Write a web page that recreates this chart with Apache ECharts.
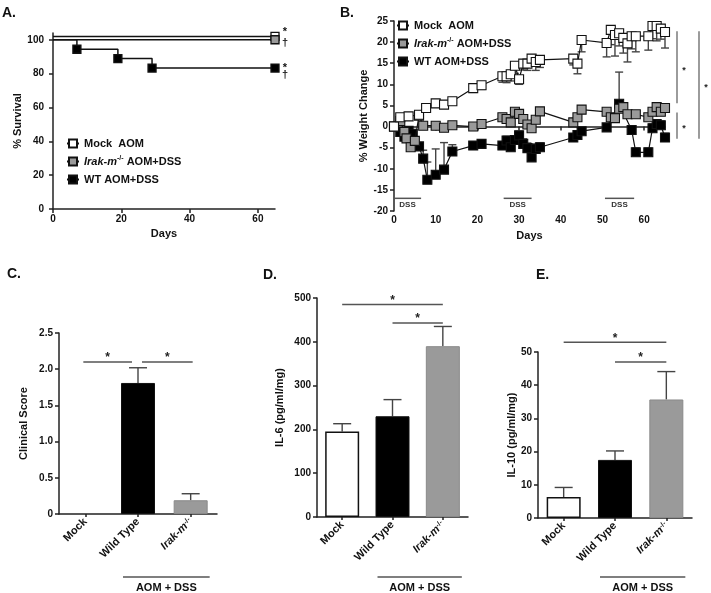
<!DOCTYPE html>
<html>
<head>
<meta charset="utf-8">
<script src="https://cdn.jsdelivr.net/npm/echarts@6/dist/echarts.min.js"></script>
<style>html,body{margin:0;padding:0;background:#fff;}#chart{width:711px;height:593px;}</style>
</head>
<body>
<div id="chart"></div>
<script>
// ================= DATA =================
// Panel A – % survival
const survXTicks = [0, 20, 40, 60];
const survYTicks = [0, 20, 40, 60, 80, 100];
const survMockDays = [0, 65];
const survMock = [100, 100];
const survIrakDays = [0, 65];
const survIrak = [100, 100];
const survWTDays = [0, 7, 19, 29, 65];
const survWT = [100, 94.4, 88.9, 83.3, 83.3];

// Panel B – % weight change
const weightXTicks = [0, 10, 20, 30, 40, 50, 60];
const weightYTicks = [-20, -15, -10, -5, 0, 5, 10, 15, 20, 25];
const wMockDays = [0,1.5,3.5,6,7.7,10,12,14,19,21,26,27,28,29,30,31,32,33,34,35,43,44,45,51,52,53,54,55,56,57,58,61,62,63,64,65];
const wMock     = [0,2.2,2.4,2.8,4.4,5.5,5.2,6,9.1,9.8,11.9,11.9,12.4,14.4,11.2,14.9,14.9,16.1,15.3,15.8,16.1,14.9,20.5,19.8,22.9,21.7,22.1,21,19.7,21.4,21.4,21.4,23.8,23.8,23.2,22.4];
const wMockErr  = [0,0.5,0.5,0.6,0.8,0.8,0.7,0.8,1,1,1.4,1.5,1.6,1.8,1.2,1.5,1.6,1.6,2,1.8,1.5,2.4,2.8,3.3,3.5,5,3,3.6,4.4,3,3.7,3.3,3,3.5,2.5,3.8];
const wIrakDays = [0,1.5,2.5,3,4,5,6,7,10,12,14,19,21,26,27,28,29,30,31,32,33,34,35,43,44,45,51,52,53,54,55,56,58,61,62,63,64,65];
const wIrak     = [0,1.3,-1.3,-2.8,-4.9,-3.4,2.6,0.2,0.2,-0.3,0.3,0,0.6,2.2,1.8,1,3.5,3,1.8,0.5,-0.4,1.6,3.6,1,2.2,4,3.5,2.2,2,4.2,4.6,2.9,2.9,2.2,3.5,4.6,3.5,4.4];
const wWTDays   = [0,1.5,2.5,3.5,4.5,6,7,8,10,12,14,19,21,26,27,28,29,30,31,32,33,34,35,43,44,45,51,54,57,58,61,62,63,64,65];
const wWT       = [0,-1.3,-2.4,-1,-1.7,-4.7,-7.6,-12.6,-11.4,-10.2,-5.9,-4.5,-4.1,-4.5,-3.3,-4.9,-3.2,-2.1,-4.1,-5.1,-7.3,-5.3,-4.9,-2.6,-2,-1.1,-0.2,5.4,-0.8,-6.1,-6.1,-0.4,0.6,0.3,-2.6];
const wWTErr    = [0,0.3,0.4,0.4,0.5,0.8,2,4.2,6.1,6.4,1.6,0.8,0.8,0.8,1,1,1,1,1.2,1.2,1.2,1.2,1,0.8,0.8,0.8,0.8,7.5,1,1,1,1,1,1,1];
const dssPeriods = [[0, 6.5], [26.3, 33], [50.6, 57.6]];
const dssLevel = -17;
const weightSig = [[22.6, 5.5], [3.3, -2.9], [22.6, -2.9]];

// Panels C, D, E – bars
const barCats = ['Mock', 'Wild Type', 'Irak-m-/-'];
const clinical = [0, 1.81, 0.19];
const clinicalErr = [0, 0.21, 0.09];
const il6 = [195, 230, 390];
const il6Err = [18, 38, 45];
const il10 = [6.3, 17.5, 35.7];
const il10Err = [2.9, 2.7, 8.4];
const sigC = [[0, 1, 2.1], [1, 2, 2.1]];
const sigD = [[0, 2, 485], [1, 2, 443]];
const sigE = [[0, 2, 52.9], [1, 2, 47]];

// ================= STYLE / BUILD =================
const FF = "'Liberation Sans', Arial, sans-serif";
const INK = '#111';
const nameMock = 'Mock  AOM', nameIrak = 'Irak-m-/- AOM+DSS', nameWT = 'WT AOM+DSS';
const barColors = ['#ffffff', '#000000', '#9a9a9a'];
const richIt = {
  i: {fontFamily: FF, fontWeight: 'bold', fontStyle: 'italic', fontSize: 11, color: INK},
  s: {fontFamily: FF, fontWeight: 'bold', fontSize: 7, color: INK, verticalAlign: 'top'},
  n: {fontFamily: FF, fontWeight: 'bold', fontSize: 11, color: INK}
};
const lineAx = {show: true, lineStyle: {color: '#222', width: 1.5}};
const tickAx = {show: true, length: 4, lineStyle: {color: '#222', width: 1.5}};
const lblAx = {color: INK, fontFamily: FF, fontWeight: 'bold', fontSize: 10};
const nameTS = {color: INK, fontFamily: FF, fontWeight: 'bold', fontSize: 11};

function valAxis(gi, min, max, ticks, name, gap, margin, extra) {
  return Object.assign({
    type: 'value', gridIndex: gi, min, max, name, nameLocation: 'middle', nameGap: gap,
    nameTextStyle: nameTS, axisLine: lineAx, splitLine: {show: false},
    axisTick: Object.assign({}, tickAx, {customValues: ticks}),
    axisLabel: Object.assign({}, lblAx, {customValues: ticks, margin})
  }, extra || {});
}
function barYAxis(gi, max, interval, name, gap, fmt) {
  return {
    type: 'value', gridIndex: gi, min: 0, max, interval, name, nameLocation: 'middle', nameGap: gap,
    nameTextStyle: nameTS, axisLine: lineAx, axisTick: tickAx, splitLine: {show: false},
    axisLabel: Object.assign({}, lblAx, {margin: 6, formatter: fmt})
  };
}
function catAxis(gi) {
  return {
    type: 'category', gridIndex: gi, data: barCats, axisLine: lineAx,
    axisTick: {show: true, alignWithLabel: true, length: 3, lineStyle: {color: '#222', width: 1.5}},
    axisLabel: {color: INK, fontFamily: FF, fontWeight: 'bold', fontSize: 11, rotate: 45, interval: 0, margin: 6,
      formatter: v => v === 'Irak-m-/-' ? '{i|Irak-m}{s|-/-}' : v, rich: richIt}
  };
}
function survSeries(name, days, vals, offset, fill, z) {
  return {
    type: 'line', name, xAxisIndex: 0, yAxisIndex: 0, step: 'end', symbol: 'rect', symbolSize: 8, z,
    data: days.map((d, i) => ({value: [d, vals[i] + offset], symbol: i === 0 ? 'none' : 'rect'})),
    lineStyle: {color: INK, width: 1.5}, itemStyle: {color: fill, borderColor: INK, borderWidth: 1.3}
  };
}
function weightSeries(name, days, vals, fill, z) {
  return {
    type: 'line', name, xAxisIndex: 1, yAxisIndex: 1, symbol: 'rect', symbolSize: 9, z, showAllSymbol: true,
    data: days.map((d, i) => [d, vals[i]]),
    lineStyle: {color: INK, width: 1.2}, itemStyle: {color: fill, borderColor: INK, borderWidth: 1.1}
  };
}
function errSeries(ai, data, dir, cap, z) {
  return {
    type: 'custom', xAxisIndex: ai, yAxisIndex: ai, data, z, silent: true, clip: false,
    encode: {x: 0, y: 1},
    renderItem(p, api) {
      const e = api.value(2);
      if (!e) return {type: 'group', children: []};
      const a = api.coord([api.value(0), api.value(1)]);
      const b = api.coord([api.value(0), api.value(1) + dir * e]);
      const st = {stroke: '#444', lineWidth: 1.4};
      return {type: 'group', children: [
        {type: 'line', shape: {x1: a[0], y1: a[1], x2: b[0], y2: b[1]}, style: st},
        {type: 'line', shape: {x1: b[0] - cap / 2, y1: b[1], x2: b[0] + cap / 2, y2: b[1]}, style: st}
      ]};
    }
  };
}
function barSeries(ai, vals) {
  return {
    type: 'bar', xAxisIndex: ai, yAxisIndex: ai, barWidth: 34, z: 3,
    data: vals.map((v, i) => ({value: v, itemStyle: {color: barColors[i], borderColor: i === 2 ? '#8a8a8a' : INK, borderWidth: v === 0 ? 0 : (i === 0 ? 1.5 : 1)}}))
  };
}
function sigSeries(ai, data, insets) {
  return {
    type: 'custom', xAxisIndex: ai, yAxisIndex: ai, z: 5, silent: true, clip: false,
    data: data.map((d, i) => [d[0], d[1], d[2], i]), encode: {x: [0, 1], y: 2},
    renderItem(p, api) {
      const a = api.coord([api.value(0), api.value(2)]);
      const b = api.coord([api.value(1), api.value(2)]);
      const ins = (insets && insets[api.value(3)]) || [0, 0];
      const x1 = a[0] + ins[0], x2 = b[0] - ins[1];
      return {type: 'group', children: [
        {type: 'line', shape: {x1, y1: a[1], x2, y2: a[1]}, style: {stroke: '#555', lineWidth: 1.5}},
        {type: 'text', x: (x1 + x2) / 2, y: a[1] - 4, style: {text: '*', fill: '#222', font: 'bold 12px ' + FF, align: 'center', verticalAlign: 'middle'}}
      ]};
    }
  };
}
function groupSeries(ai) {
  return {
    type: 'custom', xAxisIndex: ai, yAxisIndex: ai, z: 5, silent: true, clip: false,
    data: [[1, 2]], encode: {x: [0, 1]},
    renderItem(p, api) {
      const a = api.coord([api.value(0), 0]);
      const b = api.coord([api.value(1), 0]);
      const y = api.getHeight() - 16;
      return {type: 'group', children: [
        {type: 'line', shape: {x1: a[0] - 15, y1: y, x2: b[0] + 19, y2: y}, style: {stroke: '#555', lineWidth: 1.5}},
        {type: 'text', x: (a[0] + b[0]) / 2 + 2, y: y + 5, style: {text: 'AOM + DSS', fill: INK, font: 'bold 11px ' + FF, align: 'center', verticalAlign: 'top'}}
      ]};
    }
  };
}
const survNotes = ['*', '†', '*', '†'];
const survNoteDy = [-4, 3, 0, 7];
const survNoteSeries = {
  type: 'custom', xAxisIndex: 0, yAxisIndex: 0, z: 5, silent: true, clip: false,
  data: [[65, survMock[1] + 2, 0], [65, survIrak[1], 1], [65, survWT[4], 2], [65, survWT[4], 3]],
  renderItem(p, api) {
    const a = api.coord([api.value(0), api.value(1)]);
    const k = api.value(2);
    return {type: 'text', x: a[0] + 10, y: a[1] + survNoteDy[k], style: {text: survNotes[k], fill: INK, font: 'bold 11px ' + FF, align: 'center', verticalAlign: 'middle'}};
  }
};
const dssSeries = {
  type: 'custom', xAxisIndex: 1, yAxisIndex: 1, z: 4, silent: true, clip: false,
  data: dssPeriods.map(p => [p[0], p[1], dssLevel]), encode: {x: [0, 1], y: 2},
  renderItem(p, api) {
    const a = api.coord([api.value(0), api.value(2)]);
    const b = api.coord([api.value(1), api.value(2)]);
    return {type: 'group', children: [
      {type: 'line', shape: {x1: a[0], y1: a[1], x2: b[0], y2: b[1]}, style: {stroke: '#555', lineWidth: 1.5}},
      {type: 'text', x: (a[0] + b[0]) / 2, y: a[1] + 2, style: {text: 'DSS', fill: '#333', font: 'bold 8px ' + FF, align: 'center', verticalAlign: 'top'}}
    ]};
  }
};
const weightSigOffsets = [12, 12, 34];
const weightSigSeries = {
  type: 'custom', xAxisIndex: 1, yAxisIndex: 1, z: 4, silent: true, clip: false,
  data: weightSig.map((s, i) => [0, s[0], s[1], i]), encode: {x: 0, y: [1, 2]},
  renderItem(p, api) {
    const cs = p.coordSys;
    const x = cs.x + cs.width + weightSigOffsets[api.value(3)];
    const t = api.coord([0, api.value(1)])[1];
    const b = api.coord([0, api.value(2)])[1];
    return {type: 'group', children: [
      {type: 'line', shape: {x1: x, y1: t, x2: x, y2: b}, style: {stroke: '#666', lineWidth: 1.3}},
      {type: 'text', x: x + 7, y: (t + b) / 2 + 3, style: {text: '*', fill: '#222', font: 'bold 9px ' + FF, align: 'center', verticalAlign: 'middle'}}
    ]};
  }
};
const legendText = {fontFamily: FF, fontWeight: 'bold', fontSize: 11, color: INK, lineHeight: 13, rich: richIt};
const legendFmt = n => n === nameIrak ? '{i|Irak-m}{s|-/-}{n| AOM+DSS}' : n;

const panelLetter = (t, x, y) => ({type: 'text', left: x, top: y, style: {text: t, fill: INK, font: 'bold 14px ' + FF}});

const option = {
  animation: false,
  backgroundColor: '#fff',
  grid: [
    {left: 53, top: 33, width: 222, height: 176, outerBoundsMode: 'none'},
    {left: 394, top: 21, width: 271, height: 190, outerBoundsMode: 'none'},
    {left: 59, top: 333, width: 158, height: 181, outerBoundsMode: 'none'},
    {left: 317, top: 298, width: 151, height: 219, outerBoundsMode: 'none'},
    {left: 538, top: 352, width: 154, height: 166, outerBoundsMode: 'none'}
  ],
  xAxis: [
    valAxis(0, 0, 65, survXTicks, 'Days', 19, 5),
    valAxis(1, 0, 65, weightXTicks, 'Days', 19, 4),
    catAxis(2), catAxis(3), catAxis(4)
  ],
  yAxis: [
    valAxis(0, 0, 104, survYTicks, '% Survival', 25, 9),
    valAxis(1, -20, 25, weightYTicks, '% Weight Change', 22, 6),
    barYAxis(2, 2.5, 0.5, 'Clinical Score', 30, v => v === 0 ? '0' : v.toFixed(1)),
    barYAxis(3, 500, 100, 'IL-6 (pg/ml/mg)', 32),
    barYAxis(4, 50, 10, 'IL-10 (pg/ml/mg)', 21)
  ],
  legend: [
    {left: 61, top: 132, orient: 'vertical', itemWidth: 12, itemHeight: 10, itemGap: 5, selectedMode: false,
      data: [nameMock, nameIrak, nameWT], textStyle: legendText, formatter: legendFmt},
    {left: 391, top: 14, orient: 'vertical', itemWidth: 12, itemHeight: 10, itemGap: 5, selectedMode: false,
      data: [nameMock, nameIrak, nameWT], textStyle: legendText, formatter: legendFmt}
  ],
  graphic: [
    panelLetter('A.', 2, 6), panelLetter('B.', 340, 6),
    panelLetter('C.', 7, 267), panelLetter('D.', 263, 268), panelLetter('E.', 536, 268)
  ],
  series: [
    survSeries(nameMock, survMockDays, survMock, 2, '#fff', 4),
    survSeries(nameIrak, survIrakDays, survIrak, 0, '#9a9a9a', 5),
    survSeries(nameWT, survWTDays, survWT, 0, '#000', 3),
    survNoteSeries,
    errSeries(1, wWTDays.map((d, i) => [d, wWT[i], wWTErr[i]]), 1, 8, 1),
    errSeries(1, wMockDays.map((d, i) => [d, wMock[i], wMockErr[i]]), -1, 8, 1),
    weightSeries(nameWT, wWTDays, wWT, '#000', 2),
    weightSeries(nameIrak, wIrakDays, wIrak, '#9a9a9a', 3),
    weightSeries(nameMock, wMockDays, wMock, '#fff', 4),
    dssSeries, weightSigSeries,
    errSeries(2, clinical.map((v, i) => [i, v, clinicalErr[i]]), 1, 18, 1),
    errSeries(3, il6.map((v, i) => [i, v, il6Err[i]]), 1, 18, 1),
    errSeries(4, il10.map((v, i) => [i, v, il10Err[i]]), 1, 18, 1),
    barSeries(2, clinical), barSeries(3, il6), barSeries(4, il10),
    sigSeries(2, sigC, [[-2, 6], [4, -2]]), sigSeries(3, sigD), sigSeries(4, sigE),
    groupSeries(2), groupSeries(3), groupSeries(4)
  ]
};
const chart = echarts.init(document.getElementById('chart'), null, {renderer: 'canvas'});
chart.setOption(option);
</script>
</body>
</html>
